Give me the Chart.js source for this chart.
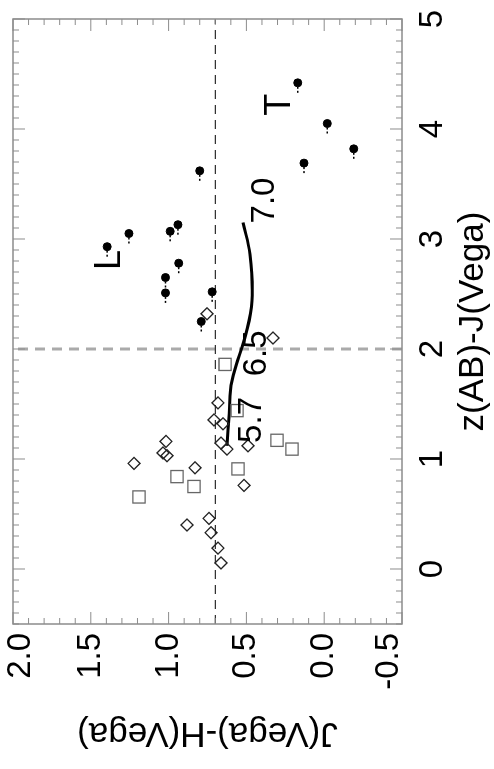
<!DOCTYPE html>
<html>
<head>
<meta charset="utf-8">
<script src="https://cdn.jsdelivr.net/npm/chart.js@4.4.1/dist/chart.umd.min.js"></script>
<style>
  html, body { margin: 0; padding: 0; background: #fff; overflow: hidden; }
  /* the figure is printed turned a quarter turn to the left */
  #wrap { position: absolute; left: 0; top: 0; width: 769px; height: 494px;
          transform-origin: 0 0; transform: translateY(769px) rotate(-90deg); }
</style>
</head>
<body>
<div id="wrap"><canvas id="chart" width="769" height="494"></canvas></div>
<script>
const xMin = -0.5, xMax = 5.0;
const yMin = -0.5, yMax = 2.0;
const xMinorStep = 0.1, xMajorStep = 1;
const yMinorStep = 0.1, yMajorStep = 0.5;
const xTickValues = [0, 1, 2, 3, 4, 5];
const yTickValues = [2.0, 1.5, 1.0, 0.5, 0.0, -0.5];

// filled circles: L and T dwarfs
const dwarfZJ = [4.42, 4.05, 3.82, 3.69, 3.62, 3.13, 3.07, 3.05, 2.93, 2.78, 2.65, 2.51, 2.52, 2.25];
const dwarfJH = [0.17, -0.02, -0.19, 0.13, 0.80, 0.94, 0.99, 1.255, 1.395, 0.935, 1.02, 1.02, 0.72, 0.79];

// open diamonds
const diamondZJ = [2.32, 2.10, 1.51, 1.355, 1.32, 1.145, 1.09, 1.12, 1.16, 1.055, 1.03, 0.96, 0.92, 0.76, 0.46, 0.40, 0.33, 0.19, 0.055];
const diamondJH = [0.753, 0.329, 0.683, 0.708, 0.65, 0.663, 0.625, 0.49, 1.017, 1.036, 1.01, 1.222, 0.83, 0.515, 0.74, 0.882, 0.727, 0.683, 0.663];

// open squares
const squareZJ = [1.86, 1.44, 1.17, 1.09, 0.91, 0.84, 0.75, 0.655];
const squareJH = [0.637, 0.56, 0.303, 0.207, 0.554, 0.946, 0.837, 1.19];

// model track
const trackZJ = [1.12, 1.41, 1.71, 2.14, 2.44, 2.86, 3.15];
const trackJH = [0.625, 0.61, 0.593, 0.503, 0.464, 0.477, 0.522];

// reference lines
const splitZJ = 2.0;
const splitJH = 0.7;

// text on the plot
const noteText = ['L', 'T', '5.7', '6.5', '7.0'];
const noteZJ = [2.81, 4.22, 1.355, 1.96, 3.35];
const noteJH = [1.377, 0.284, 0.464, 0.432, 0.38];

const toPoints = (xs, ys) => xs.map((x, i) => ({ x: x, y: ys[i] }));
const FONT = '"Liberation Sans", Arial, Helvetica, sans-serif';
Chart.defaults.font.family = FONT;
Chart.defaults.color = '#000';

const framePlugin = {
  id: 'frame',
  beforeDraw(chart) {
    // end labels of the J-H axis sit a little inside the frame
    chart.scales.y.getLabelItems().forEach(it => {
      const tr = it.options && it.options.translation;
      if (!tr) return;
      if (it.label === '2.0') tr[1] += 8;
      if (it.label === '-0.5') tr[1] -= 13;
    });
  },
  afterDatasetsDraw(chart) {
    const ctx = chart.ctx;
    const { x, y } = chart.scales;
    ctx.save();
    // little dotted tails on the filled points
    ctx.strokeStyle = '#000';
    ctx.lineWidth = 1.5;
    ctx.setLineDash([2, 2]);
    chart.getDatasetMeta(0).data.forEach(pt => {
      ctx.beginPath();
      ctx.moveTo(pt.x - 4, pt.y);
      ctx.lineTo(pt.x - 12, pt.y);
      ctx.stroke();
    });
    ctx.setLineDash([]);
    ctx.fillStyle = '#000';
    ctx.textAlign = 'center';
    ctx.textBaseline = 'middle';
    noteText.forEach((t, i) => {
      ctx.font = (t.length === 1 ? 36 : 33) + 'px ' + FONT;
      ctx.fillText(t, x.getPixelForValue(noteZJ[i]), y.getPixelForValue(noteJH[i]));
    });
    ctx.restore();
  },
  afterDraw(chart) {
    const ctx = chart.ctx;
    const a = chart.chartArea;
    const { x, y } = chart.scales;
    ctx.save();
    ctx.strokeStyle = '#8c8c8c';
    ctx.lineWidth = 1.5;
    ctx.strokeRect(a.left, a.top, a.right - a.left, a.bottom - a.top);
    ctx.lineWidth = 1;
    const nx = Math.round((xMax - xMin) / xMinorStep);
    for (let i = 0; i <= nx; i++) {
      const v = xMin + i * xMinorStep;
      const major = Math.abs(v / xMajorStep - Math.round(v / xMajorStep)) < 1e-6;
      const len = major ? 12 : 6;
      const px = x.getPixelForValue(v);
      ctx.beginPath();
      ctx.moveTo(px, a.bottom); ctx.lineTo(px, a.bottom - len);
      ctx.moveTo(px, a.top); ctx.lineTo(px, a.top + len);
      ctx.stroke();
    }
    const ny = Math.round((yMax - yMin) / yMinorStep);
    for (let i = 0; i <= ny; i++) {
      const v = yMin + i * yMinorStep;
      const major = Math.abs(v / yMajorStep - Math.round(v / yMajorStep)) < 1e-6;
      const len = major ? 12 : 6;
      const py = y.getPixelForValue(v);
      ctx.beginPath();
      ctx.moveTo(a.left, py); ctx.lineTo(a.left + len, py);
      ctx.moveTo(a.right, py); ctx.lineTo(a.right - len, py);
      ctx.stroke();
    }
    ctx.restore();
  }
};

new Chart(document.getElementById('chart'), {
  type: 'scatter',
  data: {
    datasets: [
      {
        data: toPoints(dwarfZJ, dwarfJH),
        pointStyle: 'circle', pointRadius: 4,
        backgroundColor: '#000', borderColor: '#000', borderWidth: 1
      },
      {
        data: toPoints(diamondZJ, diamondJH),
        pointStyle: 'rectRot', pointRadius: 6,
        backgroundColor: 'rgba(0,0,0,0)', borderColor: '#222', borderWidth: 1.3
      },
      {
        data: toPoints(squareZJ, squareJH),
        pointStyle: 'rect', pointRadius: 8.6,
        backgroundColor: 'rgba(0,0,0,0)', borderColor: '#666', borderWidth: 1.3
      },
      {
        data: toPoints(trackZJ, trackJH),
        showLine: true, pointRadius: 0, borderColor: '#000', borderWidth: 3,
        tension: 0.4, fill: false
      },
      {
        data: [{ x: xMin, y: splitJH }, { x: xMax, y: splitJH }],
        showLine: true, pointRadius: 0, borderColor: '#333', borderWidth: 1.2,
        borderDash: [9, 6]
      },
      {
        data: [{ x: splitZJ, y: yMin }, { x: splitZJ, y: yMax }],
        showLine: true, pointRadius: 0, borderColor: '#aaa', borderWidth: 3,
        borderDash: [10, 7]
      }
    ]
  },
  options: {
    responsive: false,
    devicePixelRatio: 1,
    animation: false,
    layout: { padding: { left: 0, right: 19, top: 13, bottom: 0 } },
    plugins: { legend: { display: false }, tooltip: { enabled: false } },
    scales: {
      x: {
        type: 'linear', position: 'bottom', min: xMin, max: xMax,
        afterBuildTicks: s => { s.ticks = xTickValues.map(v => ({ value: v })); },
        afterFit: s => { s.height = 92; s.paddingLeft = 0; s.paddingRight = 0; },
        ticks: { padding: 11, maxRotation: 0, autoSkip: false, color: '#000',
                 font: { size: 33 }, callback: v => String(v) },
        grid: { display: false, drawTicks: false },
        border: { display: false },
        title: { display: true, text: 'z(AB)-J(Vega)', color: '#000',
                 font: { size: 35 }, padding: { top: 0, bottom: 0 } }
      },
      y: {
        type: 'linear', position: 'left', min: yMin, max: yMax,
        afterBuildTicks: s => { s.ticks = yTickValues.map(v => ({ value: v })); },
        afterFit: s => { s.width = 145; s.paddingTop = 0; s.paddingBottom = 0; },
        ticks: { padding: 9, autoSkip: false, color: '#000',
                 font: { size: 33 }, callback: v => v.toFixed(1) },
        grid: { display: false, drawTicks: false },
        border: { display: false },
        title: { display: true, text: 'J(Vega)-H(Vega)', color: '#000',
                 font: { size: 35 }, padding: { top: 15, bottom: 0 } }
      }
    }
  },
  plugins: [framePlugin]
});
</script>
</body>
</html>
